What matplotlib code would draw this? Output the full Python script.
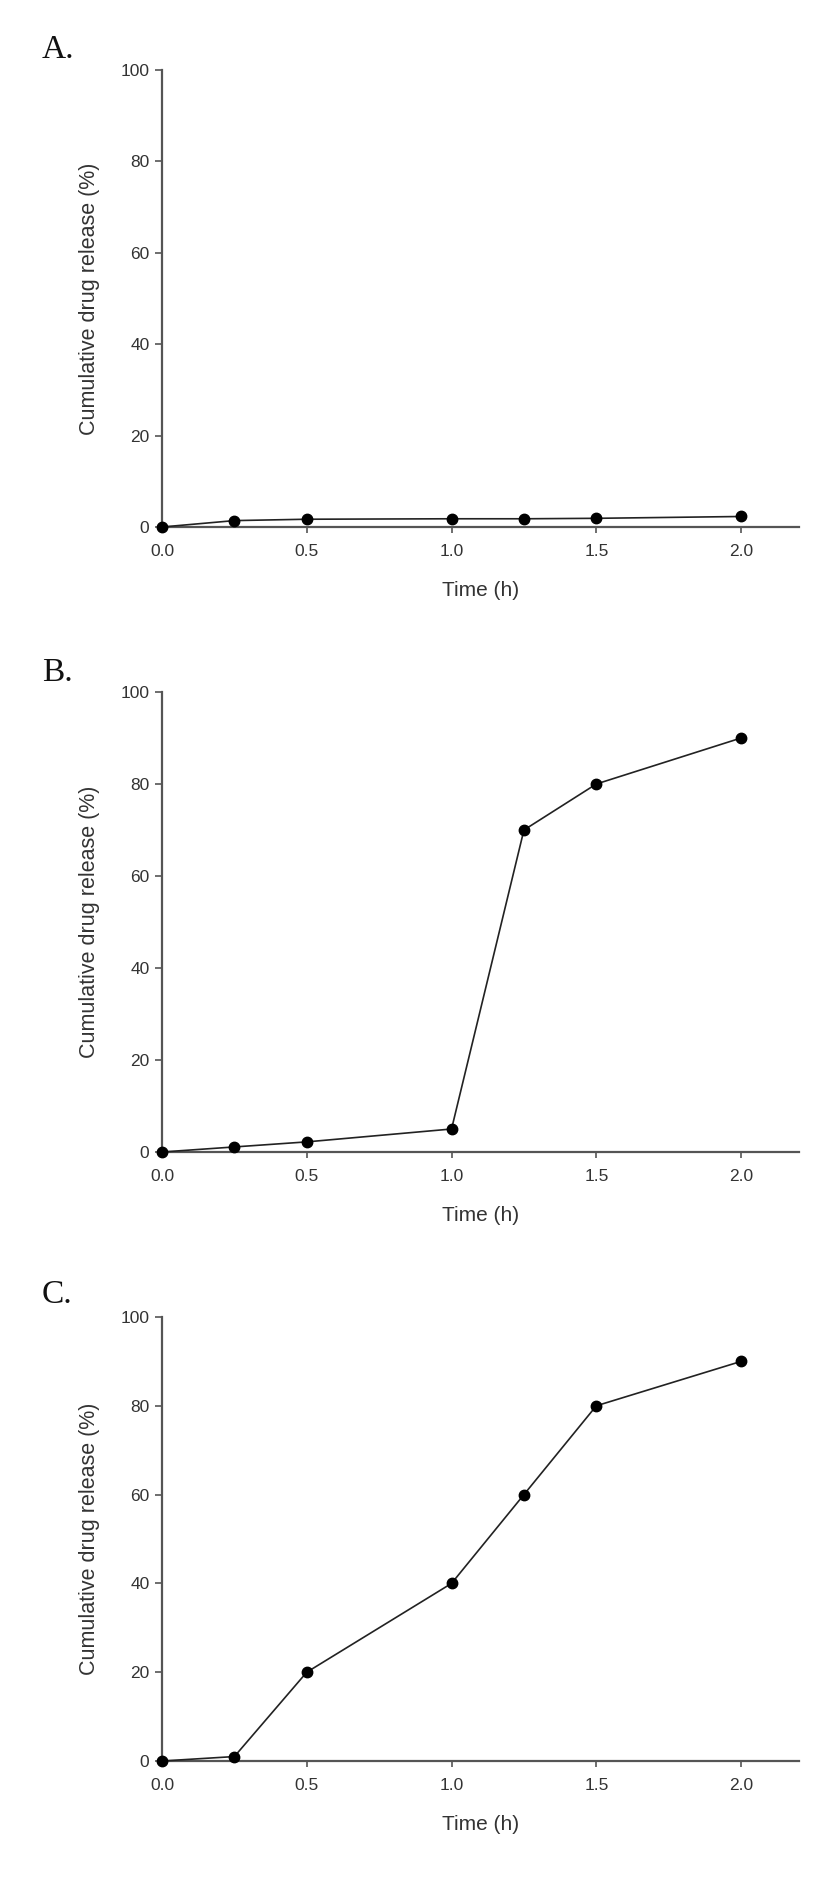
import numpy as np
import matplotlib.pyplot as plt

# sampling times (h)
time_h = [0.0, 0.25, 0.5, 1.0, 1.25, 1.5, 2.0]

# cumulative drug release (%) for each panel
release_a = [0.0, 1.4, 1.7, 1.8, 1.8, 1.9, 2.3]
release_b = [0.0, 1.1, 2.2, 5.0, 70.0, 80.0, 90.0]
release_c = [0.0, 1.0, 20.0, 40.0, 60.0, 80.0, 90.0]

panel_labels = ['A.', 'B.', 'C.']
x_ticks = [0.0, 0.5, 1.0, 1.5, 2.0]
y_ticks = [0, 20, 40, 60, 80, 100]

W, H = 838, 1894
fig = plt.figure(figsize=(W / 100, H / 100), dpi=100)

# axes boxes in pixels: (top, bottom) of the plotting area
boxes = [(70, 527), (692, 1152), (1317, 1761)]
label_base = [58, 681, 1303]
left, right = 162, 799

txt_col = '#333333'
spine_col = '#555555'

for vals, lab, (top, bot), lb in zip([release_a, release_b, release_c],
                                     panel_labels, boxes, label_base):
    ax = fig.add_axes([left / W, 1 - bot / H, (right - left) / W, (bot - top) / H])
    ax.plot(time_h, vals, color='#222222', lw=1.2, marker='o', ms=7.5,
            mfc='black', mec='black', clip_on=False, zorder=3)

    ax.set_xlim(0, 2.2)
    ax.set_ylim(0, 100)
    ax.set_xticks(x_ticks)
    ax.set_xticklabels(['%.1f' % t for t in x_ticks])
    ax.set_yticks(y_ticks)

    for s in ['top', 'right']:
        ax.spines[s].set_visible(False)
    for s in ['left', 'bottom']:
        ax.spines[s].set_color(spine_col)
        ax.spines[s].set_linewidth(1.6)

    ax.tick_params(axis='x', direction='out', length=4, width=1.2,
                   color=spine_col, pad=8, labelsize=12.5, labelcolor=txt_col)
    ax.tick_params(axis='y', direction='out', length=5, width=1.2,
                   color=spine_col, pad=4, labelsize=12.5, labelcolor=txt_col)
    for t in ax.get_xticklabels() + ax.get_yticklabels():
        t.set_family('Liberation Sans')

    ax.set_xlabel('Time (h)', fontsize=15, color=txt_col,
                  family='Liberation Sans', labelpad=16)
    ax.set_ylabel('Cumulative drug release (%)', fontsize=15.5, color=txt_col,
                  family='Liberation Sans', labelpad=15)

    fig.text(42 / W, 1 - lb / H, lab, fontsize=24, family='Liberation Serif',
             ha='left', va='baseline', color='#111111')

fig.savefig('out.png', dpi=100, facecolor='white')
